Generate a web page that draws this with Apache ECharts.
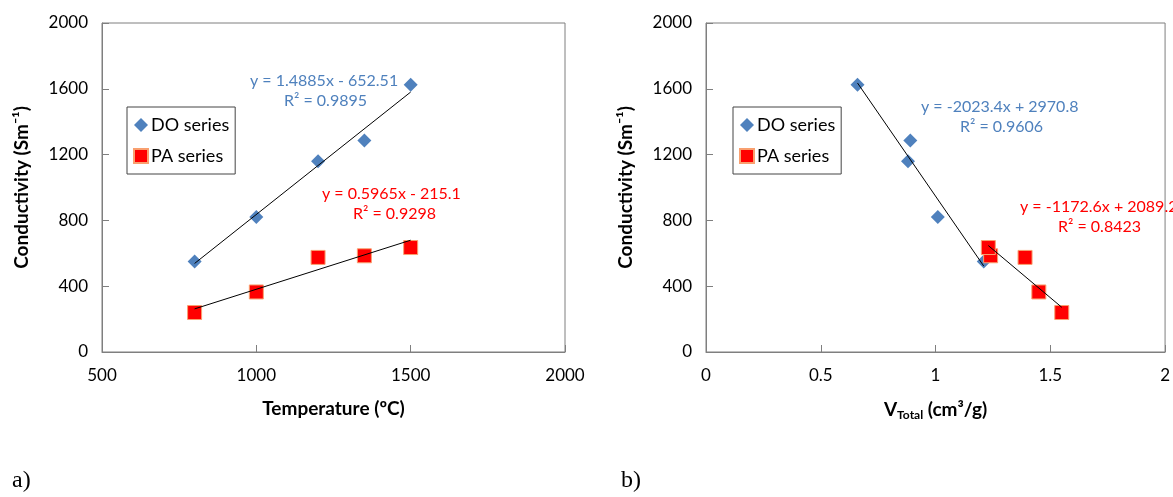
<!DOCTYPE html>
<html>
<head>
<meta charset="utf-8">
<script src="https://cdn.jsdelivr.net/npm/echarts@6/dist/echarts.min.js"></script>
<style>
  html, body { margin: 0; padding: 0; background: #fff; }
  #main { width: 1173px; height: 497px; }
</style>
</head>
<body>
<div id="main"></div>
<script>
// a) conductivity vs temperature
var tempDO = [800, 1000, 1200, 1350, 1500];
var condDO = [550, 820, 1160, 1285, 1625];
var tempPA = [800, 1000, 1200, 1350, 1500];
var condPA = [240, 365, 575, 585, 635];

// b) conductivity vs total pore volume
var volDO = [1.21, 1.01, 0.88, 0.89, 0.66];
var condDOb = [550, 820, 1160, 1285, 1625];
var volPA = [1.55, 1.45, 1.39, 1.24, 1.23];
var condPAb = [240, 365, 575, 585, 635];

// trend line coefficients [slope, intercept]
var fitDOa = [1.4885, -652.51];
var fitPAa = [0.5965, -215.1];
var fitDOb = [-2023.4, 2970.8];
var fitPAb = [-1172.6, 2089.2];

var yTicks = [0, 400, 800, 1200, 1600, 2000];

var blue = '#4F81BD';
var red = '#FF0000';
var font = 'Lato, "Open Sans", sans-serif';

function zip(xs, ys) {
  return xs.map(function (x, i) { return [x, ys[i]]; });
}
// straight trend line between the smallest and largest x of a series
function trend(xs, fit) {
  var lo = Math.min.apply(null, xs), hi = Math.max.apply(null, xs);
  return [[lo, fit[0] * lo + fit[1]], [hi, fit[0] * hi + fit[1]]];
}

var myChart = echarts.init(document.getElementById('main'));

function plain(v) { return String(v); }

function xAx(idx, min, max, step, name) {
  return {
    gridIndex: idx, type: 'value', min: min, max: max, interval: step,
    name: name, nameLocation: 'middle', nameGap: 47,
    nameTextStyle: { color: '#000', fontFamily: font, fontWeight: 'bold', fontSize: 19,
      rich: {
        v: { fontFamily: font, fontWeight: 'bold', fontSize: 19, color: '#000' },
        sub: { fontFamily: font, fontWeight: 'bold', fontSize: 12, color: '#000', verticalAlign: 'bottom', padding: [10, 0, 0, 0] }
      }
    },
    axisLine: { show: true, lineStyle: { color: '#7f7f7f' } },
    axisTick: { show: true, inside: true, length: 7, lineStyle: { color: '#7f7f7f' } },
    axisLabel: { color: '#000', fontFamily: font, fontSize: 17, margin: 15, formatter: plain },
    splitLine: { show: false }
  };
}
function yAx(idx) {
  return {
    gridIndex: idx, type: 'value', min: yTicks[0], max: yTicks[yTicks.length - 1], interval: 400,
    name: 'Conductivity (Sm⁻¹)', nameLocation: 'middle', nameGap: 71, nameRotate: 90,
    nameTextStyle: { color: '#000', fontFamily: font, fontWeight: 'bold', fontSize: 19 },
    axisLine: { show: true, lineStyle: { color: '#7f7f7f' } },
    axisTick: { show: true, inside: true, length: 7, lineStyle: { color: '#7f7f7f' } },
    axisLabel: { color: '#000', fontFamily: font, fontSize: 17, margin: 14, formatter: plain },
    splitLine: { show: false }
  };
}

function pts(name, xi, data, isDO) {
  return {
    name: name, type: 'scatter', xAxisIndex: xi, yAxisIndex: xi, data: data,
    symbol: isDO ? 'diamond' : 'rect', symbolSize: 14,
    itemStyle: isDO ? { color: blue, opacity: 1 } : { color: red, opacity: 1, borderColor: '#F9A070', borderWidth: 1 },
    z: 3
  };
}
function line(xi, data) {
  return {
    name: 'trend', type: 'line', xAxisIndex: xi, yAxisIndex: xi, data: data,
    symbol: 'none', lineStyle: { color: '#000', width: 1 }, z: 4, silent: true
  };
}
function legend(left) {
  return {
    orient: 'vertical', left: left, top: 107, itemGap: 13,
    data: [{ name: 'DO series', icon: 'diamond' }, { name: 'PA series', icon: 'rect' }],
    itemWidth: 14, itemHeight: 14,
    borderColor: '#444', borderWidth: 1, padding: [9, 6, 9, 6],
    textStyle: { fontFamily: font, fontSize: 18, color: '#000', padding: [0, 0, 0, -2] }
  };
}
function eq(x, y, txt, color) {
  return { type: 'text', left: x, top: y, style: { text: txt, fill: color, font: '16px ' + font } };
}

var option = {
  animation: false,
  grid: [
    { left: 102, top: 23, width: 463, height: 329, show: true, borderColor: '#7f7f7f', borderWidth: 1 },
    { left: 706, top: 23, width: 464, height: 329, show: true, borderColor: '#7f7f7f', borderWidth: 1 }
  ],
  legend: [legend(127), legend(733)],
  xAxis: [
    xAx(0, 500, 2000, 500, 'Temperature (ºC)'),
    xAx(1, 0, 2, 0.5, '{v|V}{sub|Total}{v| (cm³/g)}')
  ],
  yAxis: [yAx(0), yAx(1)],
  series: [
    pts('DO series', 0, zip(tempDO, condDO), true),
    pts('PA series', 0, zip(tempPA, condPA), false),
    line(0, trend(tempDO, fitDOa)),
    line(0, trend(tempPA, fitPAa)),
    pts('DO series', 1, zip(volDO, condDOb), true),
    pts('PA series', 1, zip(volPA, condPAb), false),
    line(1, trend(volDO, fitDOb)),
    line(1, trend(volPA, fitPAb))
  ],
  graphic: [
    eq(250, 73, 'y = 1.4885x - 652.51', blue),
    eq(284, 93, 'R² = 0.9895', blue),
    eq(322, 186, 'y = 0.5965x - 215.1', red),
    eq(353, 206, 'R² = 0.9298', red),
    eq(921, 99, 'y = -2023.4x + 2970.8', blue),
    eq(960, 119, 'R² = 0.9606', blue),
    eq(1020, 199, 'y = -1172.6x + 2089.2', red),
    eq(1058, 219, 'R² = 0.8423', red),
    { type: 'text', left: 12, top: 469, style: { text: 'a)', fill: '#000', font: '24px "Liberation Serif", serif' } },
    { type: 'text', left: 621, top: 469, style: { text: 'b)', fill: '#000', font: '24px "Liberation Serif", serif' } }
  ]
};

myChart.setOption(option);
</script>
</body>
</html>
